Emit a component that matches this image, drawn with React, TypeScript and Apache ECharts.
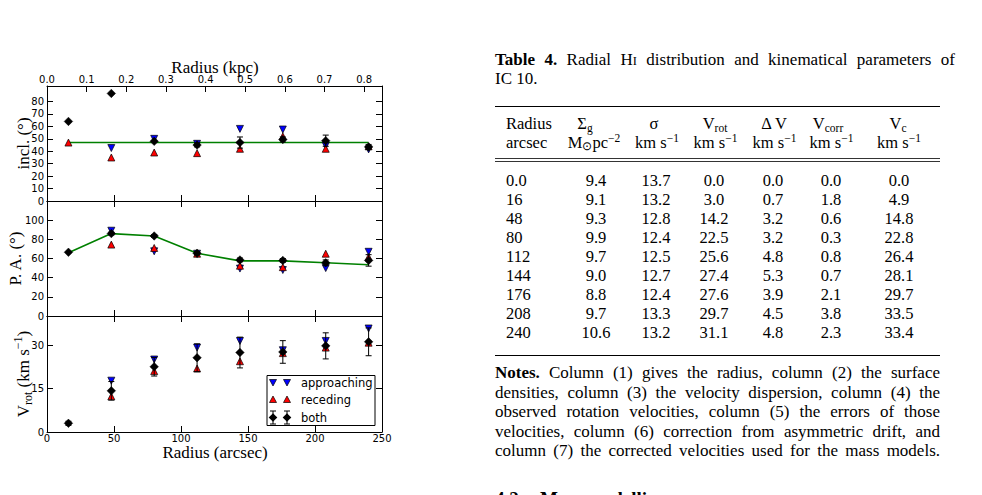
import React, { useEffect, useRef } from 'react';
import * as echarts from 'echarts';

// ---------------- data ----------------
const radius = [16, 48, 80, 112, 144, 176, 208, 240];
const xTicks = [0, 50, 100, 150, 200, 250];
const kpcTicks = [0, 0.1, 0.2, 0.3, 0.4, 0.5, 0.6, 0.7, 0.8];
const inclTicks = [0, 10, 20, 30, 40, 50, 60, 70, 80];
const paTicks = [0, 20, 40, 60, 80, 100];
const vrotTicks = [0, 15, 30];
const KPC_PER_ARCSEC = 0.00338;

const inclModel = [47, 47, 47, 47, 47, 47, 47, 47];
const inclApproaching = [null, 42.6, 50, 46, 58, 57.5, 44.5, 41.5];
const inclReceding = [47, 35, 39, 38.5, 42, 52, 42, 44];
const inclBoth = [64, 86.5, 48, 45, 47, 49.5, 48.5, 43.5];
const inclBothErr = [0, 0, 0, 1.5, 4.5, 2, 4.5, 2];

const paModel = [66, 86, 83.5, 65.5, 57.5, 57.5, 55.5, 53.5];
const paApproaching = [null, 89, 67.5, 65, 49.5, 48, 50, 67];
const paReceding = [null, 74.5, 71, 65, 52.5, 51, 65, 61.5];
const paBoth = [66.5, 86, 83.5, 65.5, 58.5, 58, 55.5, 58];
const paBothErr = [0, 1.5, 1.5, 1.5, 2, 2, 3, 6];

const vrotApproaching = [null, 17.7, 25, 29.1, 31.4, 28.2, 31.4, 35.7];
const vrotReceding = [null, 12.3, 21, 21.9, 24.4, 27.2, 29.1, 30.8];
const vrotBoth = [3.0, 14.2, 22.5, 25.6, 27.4, 27.6, 29.7, 31.1];
const vrotBothErr = [0.7, 3.2, 3.2, 4.8, 5.3, 3.9, 4.5, 4.8];

const legendLabels = ['approaching', 'receding', 'both'];

// table
const tableRadius = ['0.0', '16', '48', '80', '112', '144', '176', '208', '240'];
const tableSigmaG = ['9.4', '9.1', '9.3', '9.9', '9.7', '9.0', '8.8', '9.7', '10.6'];
const tableSigma = ['13.7', '13.2', '12.8', '12.4', '12.5', '12.7', '12.4', '13.3', '13.2'];
const tableVrot = ['0.0', '3.0', '14.2', '22.5', '25.6', '27.4', '27.6', '29.7', '31.1'];
const tableDeltaV = ['0.0', '0.7', '3.2', '3.2', '4.8', '5.3', '3.9', '4.5', '4.8'];
const tableVcorr = ['0.0', '1.8', '0.6', '0.3', '0.8', '0.7', '2.1', '3.8', '2.3'];
const tableVc = ['0.0', '4.9', '14.8', '22.8', '26.4', '28.1', '29.7', '33.5', '33.4'];

const captionLine1 = 'Table 4. Radial H|I distribution and kinematical parameters of';
const captionLine2 = 'IC 10.';
const notesLines = [
  'Notes. Column (1) gives the radius, column (2) the surface',
  'densities, column (3) the velocity dispersion, column (4) the',
  'observed rotation velocities, column (5) the errors of those',
  'velocities, column (6) correction from asymmetric drift, and',
  'column (7) the corrected velocities used for the mass models.',
];
const sectionNumber = '4.2';
const sectionTitle = 'Mass modelling';

// ---------------- styling ----------------
const SERIF = 'Liberation Serif';
const SANS = 'DejaVu Sans';
const TS = 16.5; // table font size
const PS = 17; // paragraph font size

type Piece = { t: string; size?: number; bold?: boolean; dy?: number };

export default function App() {
  const ref = useRef<HTMLDivElement>(null);

  useEffect(() => {
    if (!ref.current) return;
    const chart = echarts.init(ref.current, null, { renderer: 'svg' });
    const ctx = document.createElement('canvas').getContext('2d')!;
    const measure = (p: Piece) => {
      ctx.font = `${p.bold ? 'bold ' : ''}${p.size ?? PS}px "${SERIF}"`;
      return ctx.measureText(p.t).width;
    };

    const grids = [
      { left: 47, top: 86, width: 335, height: 115 },
      { left: 47, top: 201, width: 335, height: 115 },
      { left: 47, top: 316, width: 335, height: 116 },
    ];

    const tickLabel = { color: '#000', fontFamily: SANS, fontSize: 10 };
    const axLine = { show: true, onZero: false, lineStyle: { color: '#000', width: 1 } };

    const xAxes: any[] = [];
    const yAxes: any[] = [];
    const yRanges = [
      { max: 92.5, ticks: inclTicks },
      { max: 120, ticks: paTicks },
      { max: 40, ticks: vrotTicks },
    ];
    for (let g = 0; g < 3; g++) {
      xAxes.push({
        type: 'value', gridIndex: g, position: 'bottom', min: 0, max: 250,
        axisLine: axLine,
        axisTick: { show: true, inside: true, length: 6, customValues: xTicks, lineStyle: { color: '#000' } },
        axisLabel: { show: g === 2, customValues: xTicks, margin: 1, ...tickLabel },
        splitLine: { show: false },
      });
      if (g === 0) {
        xAxes.push({
          type: 'value', gridIndex: g, position: 'top', min: 0, max: 250 * KPC_PER_ARCSEC,
          axisLine: axLine,
          axisTick: { show: true, inside: true, length: 6, customValues: kpcTicks, lineStyle: { color: '#000' } },
          axisLabel: { show: true, customValues: kpcTicks, margin: 2, formatter: (v: number) => v.toFixed(1), ...tickLabel },
          splitLine: { show: false },
        });
      } else {
        xAxes.push({
          type: 'value', gridIndex: g, position: 'top', min: 0, max: 250,
          axisLine: axLine,
          axisTick: { show: true, inside: true, length: 6, customValues: xTicks, lineStyle: { color: '#000' } },
          axisLabel: { show: false },
          splitLine: { show: false },
        });
      }
      const yr = yRanges[g];
      yAxes.push({
        type: 'value', gridIndex: g, position: 'left', min: 0, max: yr.max,
        axisLine: axLine,
        axisTick: { show: true, inside: true, length: 6, customValues: yr.ticks, lineStyle: { color: '#000' } },
        axisLabel: { show: true, customValues: yr.ticks, margin: 3, ...tickLabel },
        splitLine: { show: false },
      });
      yAxes.push({
        type: 'value', gridIndex: g, position: 'right', min: 0, max: yr.max,
        axisLine: axLine,
        axisTick: { show: true, inside: true, length: 6, customValues: yr.ticks, lineStyle: { color: '#000' } },
        axisLabel: { show: false },
        splitLine: { show: false },
      });
    }

    const pts = (ys: (number | null)[]) =>
      radius.map((r, i) => (ys[i] == null ? null : [r, ys[i]])).filter((p) => p !== null);

    const series: any[] = [];
    const panels = [
      { model: inclModel, app: inclApproaching, rec: inclReceding, both: inclBoth, err: inclBothErr },
      { model: paModel, app: paApproaching, rec: paReceding, both: paBoth, err: paBothErr },
      { model: null, app: vrotApproaching, rec: vrotReceding, both: vrotBoth, err: vrotBothErr },
    ];
    panels.forEach((p, g) => {
      const xi = g * 2;
      const yi = g * 2;
      if (p.model) {
        series.push({
          type: 'line', xAxisIndex: xi, yAxisIndex: yi, data: pts(p.model), symbol: 'none',
          lineStyle: { color: '#008000', width: 1.6 }, z: 1, silent: true,
        });
      }
      series.push({
        name: 'approaching', type: 'scatter', xAxisIndex: xi, yAxisIndex: yi, data: pts(p.app),
        symbol: 'triangle', symbolRotate: 180, symbolSize: 7,
        itemStyle: { color: '#0000ff', borderColor: '#000', borderWidth: 0.7, opacity: 1 }, z: 2,
      });
      series.push({
        name: 'receding', type: 'scatter', xAxisIndex: xi, yAxisIndex: yi, data: pts(p.rec),
        symbol: 'triangle', symbolSize: 7,
        itemStyle: { color: '#ff0000', borderColor: '#000', borderWidth: 0.7, opacity: 1 }, z: 3,
      });
      series.push({
        type: 'custom', xAxisIndex: xi, yAxisIndex: yi,
        data: radius.map((r, i) => [r, p.both[i] - p.err[i], p.both[i] + p.err[i]]).filter((_, i) => p.err[i] > 0),
        encode: { x: 0, y: [1, 2] },
        renderItem: (params: any, api: any) => {
          const lo = api.coord([api.value(0), api.value(1)]);
          const hi = api.coord([api.value(0), api.value(2)]);
          const c = 3;
          const st = { stroke: '#000', lineWidth: 1 };
          return {
            type: 'group',
            children: [
              { type: 'line', shape: { x1: lo[0], y1: lo[1], x2: hi[0], y2: hi[1] }, style: st },
              { type: 'line', shape: { x1: lo[0] - c, y1: lo[1], x2: lo[0] + c, y2: lo[1] }, style: st },
              { type: 'line', shape: { x1: hi[0] - c, y1: hi[1], x2: hi[0] + c, y2: hi[1] }, style: st },
            ],
          };
        },
        z: 4, silent: true,
      });
      series.push({
        name: 'both', type: 'scatter', xAxisIndex: xi, yAxisIndex: yi, data: pts(p.both),
        symbol: 'diamond', symbolSize: [8.5, 8.5],
        itemStyle: { color: '#000', borderColor: '#000', borderWidth: 0.5, opacity: 1 }, z: 5,
      });
    });

    // ---------------- graphics ----------------
    const G: any[] = [];
    const txt = (x: number, y: number, text: string, o: any = {}) => ({
      type: 'text', x, y, silent: true, rotation: o.rotation || 0,
      style: {
        text, fill: '#000', fontFamily: o.fontFamily || SERIF, fontSize: o.fontSize || TS,
        fontWeight: o.bold ? 'bold' : 'normal', align: o.align || 'left', verticalAlign: o.va || 'middle',
        rich: o.rich,
      },
    });
    const hline = (x1: number, x2: number, y: number, w = 1) => ({
      type: 'line', silent: true, shape: { x1, y1: y, x2, y2: y }, style: { stroke: '#000', lineWidth: w },
    });

    // axis titles
    const titleSize = 17;
    const richBase = {
      n: { fontFamily: SERIF, fontSize: titleSize, lineHeight: 22 },
      sub: { fontFamily: SERIF, fontSize: 12, lineHeight: 12, verticalAlign: 'bottom' },
      sup: { fontFamily: SERIF, fontSize: 12, lineHeight: 12, verticalAlign: 'top' },
    };
    G.push(txt(215, 67, 'Radius (kpc)', { fontSize: titleSize, align: 'center' }));
    G.push(txt(215, 452, 'Radius (arcsec)', { fontSize: titleSize, align: 'center' }));
    G.push(txt(23, 143.5, 'incl. (°)', { fontSize: titleSize, align: 'center', rotation: Math.PI / 2 }));
    G.push(txt(15.5, 258.5, 'P. A. (°)', { fontSize: titleSize, align: 'center', rotation: Math.PI / 2 }));
    G.push(txt(23, 374, '{n|V}{sub|rot}{n| (km s}{sup|−1}{n|)}', { fontSize: titleSize, align: 'center', rotation: Math.PI / 2, rich: richBase }));

    // legend
    const lx = 267, ly = 375.5, lw = 108, lh = 50;
    G.push({ type: 'rect', silent: true, shape: { x: lx, y: ly, width: lw, height: lh }, style: { fill: '#fff', stroke: '#000', lineWidth: 1 }, z: 50 });
    const rowsY = [382.5, 399.5, 417.5];
    const mx = [273, 287];
    const tri = (cx: number, cy: number, down: boolean, color: string) => ({
      type: 'polygon', silent: true, z: 51,
      shape: { points: down ? [[cx - 3.5, cy - 3], [cx + 3.5, cy - 3], [cx, cy + 3.5]] : [[cx - 3.5, cy + 3], [cx + 3.5, cy + 3], [cx, cy - 3.5]] },
      style: { fill: color, stroke: '#000', lineWidth: 0.7 },
    });
    mx.forEach((x) => {
      G.push(tri(x, rowsY[0], true, '#0000ff'));
      G.push(tri(x, rowsY[1], false, '#ff0000'));
      const cy = rowsY[2];
      G.push({ type: 'line', silent: true, z: 51, shape: { x1: x, y1: cy - 6.5, x2: x, y2: cy + 6.5 }, style: { stroke: '#000', lineWidth: 1 } });
      G.push({ type: 'line', silent: true, z: 51, shape: { x1: x - 3, y1: cy - 6.5, x2: x + 3, y2: cy - 6.5 }, style: { stroke: '#000', lineWidth: 1 } });
      G.push({ type: 'line', silent: true, z: 51, shape: { x1: x - 3, y1: cy + 6.5, x2: x + 3, y2: cy + 6.5 }, style: { stroke: '#000', lineWidth: 1 } });
      G.push({ type: 'polygon', silent: true, z: 52, shape: { points: [[x, cy - 4.3], [x + 4.3, cy], [x, cy + 4.3], [x - 4.3, cy]] }, style: { fill: '#000' } });
    });
    legendLabels.forEach((l, i) => {
      const t: any = txt(301, rowsY[i], l, { fontFamily: SANS, fontSize: 11.5 });
      t.z = 52;
      G.push(t);
    });

    // ---------------- table ----------------
    const TL = 495, TR = 940, CR = 955;
    const toWords = (line: string, nBold: number): Piece[][] =>
      line.split(' ').map((w, i) => {
        if (w.includes('|')) {
          const [a, b] = w.split('|');
          return [{ t: a }, { t: b, size: 12.5, dy: 1.4 }];
        }
        return [{ t: w, bold: i < nBold }];
      });
    const justify = (words: Piece[][], x0: number, x1: number, y: number) => {
      const widths = words.map((w) => w.reduce((s, p) => s + measure(p), 0));
      const total = widths.reduce((a, b) => a + b, 0);
      const gap = words.length > 1 ? (x1 - x0 - total) / (words.length - 1) : 0;
      let x = x0;
      words.forEach((w, i) => {
        let px = x;
        w.forEach((p) => {
          G.push(txt(px, y + (p.dy || 0), p.t, { fontSize: p.size || PS, bold: p.bold }));
          px += measure(p);
        });
        x += widths[i] + gap;
      });
    };
    justify(toWords(captionLine1, 2), TL, CR, 59.5);
    G.push(txt(TL, 78.5, captionLine2, { fontSize: PS }));

    G.push(hline(TL, TR, 106.5, 1.2));
    const hr = {
      n: { fontFamily: SERIF, fontSize: TS, lineHeight: 20 },
      sub: { fontFamily: SERIF, fontSize: 11.5, lineHeight: 11, verticalAlign: 'bottom' },
      sup: { fontFamily: SERIF, fontSize: 11.5, lineHeight: 11, verticalAlign: 'top' },
    };
    const h1y = 123.5, h2y = 142;
    G.push(txt(506, h1y, 'Radius'));
    G.push(txt(585, h1y, '{n|Σ}{sub|g}', { align: 'center', rich: hr }));
    G.push(txt(654, h1y, 'σ', { align: 'center' }));
    G.push(txt(715, h1y, '{n|V}{sub|rot}', { align: 'center', rich: hr }));
    G.push(txt(774, h1y, 'Δ V', { align: 'center' }));
    G.push(txt(828, h1y, '{n|V}{sub|corr}', { align: 'center', rich: hr }));
    G.push(txt(898, h1y, '{n|V}{sub|c}', { align: 'center', rich: hr }));
    G.push(txt(506, h2y, 'arcsec'));
    G.push(txt(594, h2y, '{n|M}{sub|⊙}{n|pc}{sup|−2}', { align: 'center', rich: hr }));
    [657, 715.5, 774.5, 831.5, 899].forEach((x) => G.push(txt(x, h2y, '{n|km s}{sup|−1}', { align: 'center', rich: hr })));
    G.push(hline(TL, TR, 158.5, 0.8));
    G.push(hline(TL, TR, 161.5, 0.8));

    const columns = [tableRadius, tableSigmaG, tableSigma, tableVrot, tableDeltaV, tableVcorr, tableVc];
    const colX = [506, 596, 656, 714, 773, 831, 899];
    columns.forEach((col, c) => {
      col.forEach((v, r) => {
        G.push(txt(colX[c], 180 + r * 19.1, v, { align: c === 0 ? 'left' : 'center' }));
      });
    });
    G.push(hline(TL, TR, 355.5, 1.2));
    notesLines.forEach((l, i) => justify(toWords(l, i === 0 ? 1 : 0), TL, TR, 372.5 + i * 19.5));

    G.push(txt(TL, 489, sectionNumber, { fontSize: 19, bold: true, va: 'top' }));
    G.push(txt(540, 489, sectionTitle, { fontSize: 19, bold: true, va: 'top' }));

    chart.setOption({
      animation: false,
      backgroundColor: '#fff',
      grid: grids,
      xAxis: xAxes,
      yAxis: yAxes,
      series,
      graphic: G,
    });
    return () => chart.dispose();
  }, []);

  return <div ref={ref} style={{ position: 'absolute', left: 0, top: 0, width: 982, height: 495 }} />;
}
